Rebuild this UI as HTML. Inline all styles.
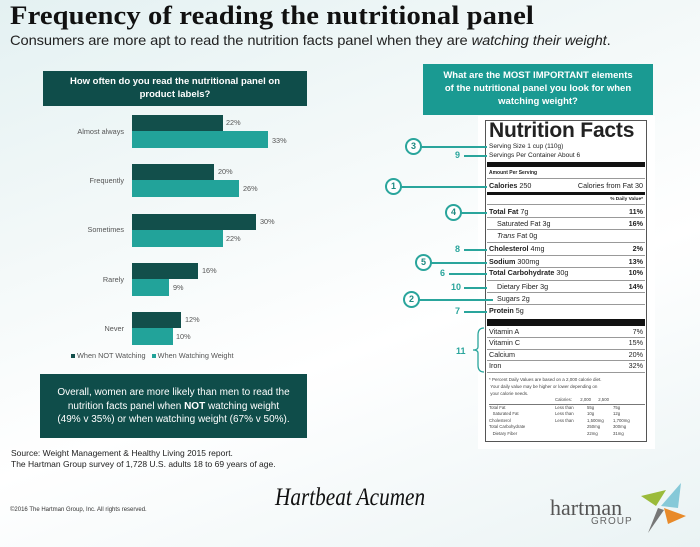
<!DOCTYPE html>
<html><head><meta charset="utf-8"><style>
*{margin:0;padding:0;box-sizing:border-box}
body{width:700px;height:547px;overflow:hidden;position:relative;font-family:"Liberation Sans",sans-serif;background:linear-gradient(160deg,#e4f1f2 0%,#f4f9f9 35%,#ffffff 60%,#eaf3f4 100%);color:#222}
.a{position:absolute;white-space:nowrap}
.bar{position:absolute;height:16px}
.d{background:#124f4b}.l{background:#22a39a}
.lab{position:absolute;font-size:7.3px;color:#555;text-align:right;width:90px;left:34px}
.pct{position:absolute;font-size:7.3px;color:#555}
.nf{position:absolute;left:485px;width:162px;font-size:7.2px;color:#222}
.ln{position:absolute;left:487px;width:158px;height:1px;background:#999}
.circ{position:absolute;width:17px;height:17px;border:2px solid #2aa59c;border-radius:50%;background:#fff;color:#1e8a82;font-weight:bold;font-size:9px;text-align:center;line-height:13px}
.num{position:absolute;color:#2aa59c;font-weight:bold;font-size:9px}
.hl{position:absolute;height:1.5px;background:#2aa59c}
</style></head><body>
<div class="a" style="left:10px;top:1px;font-family:'Liberation Serif',serif;font-weight:bold;font-size:26px;color:#111;letter-spacing:0.1px;transform:scaleX(1.1);transform-origin:left">Frequency of reading the nutritional panel</div>
<div class="a" style="left:10px;top:32px;font-size:14px;color:#222;letter-spacing:-0.1px;transform:scaleX(1.05);transform-origin:left">Consumers are more apt to read the nutrition facts panel when they are <i>watching their weight</i>.</div>

<div class="a" style="left:43px;top:71px;width:264px;height:35px;background:#0f4d4a;color:#fff;font-weight:bold;font-size:9.5px;text-align:center;line-height:13px;padding-top:4px">How often do you read the nutritional panel on<br>product labels?</div>

<div class="lab" style="top:127px">Almost always</div>
<div class="bar d" style="left:132px;top:115px;width:91px"></div><div class="pct" style="left:226px;top:118px">22%</div>
<div class="bar l" style="left:132px;top:131px;width:136px;height:17px"></div><div class="pct" style="left:272px;top:136px">33%</div>
<div class="lab" style="top:176px">Frequently</div>
<div class="bar d" style="left:132px;top:164px;width:82px"></div><div class="pct" style="left:218px;top:167px">20%</div>
<div class="bar l" style="left:132px;top:180px;width:107px;height:17px"></div><div class="pct" style="left:243px;top:184px">26%</div>
<div class="lab" style="top:225px">Sometimes</div>
<div class="bar d" style="left:132px;top:214px;width:124px"></div><div class="pct" style="left:260px;top:217px">30%</div>
<div class="bar l" style="left:132px;top:230px;width:91px;height:17px"></div><div class="pct" style="left:226px;top:234px">22%</div>
<div class="lab" style="top:275px">Rarely</div>
<div class="bar d" style="left:132px;top:263px;width:66px"></div><div class="pct" style="left:202px;top:266px">16%</div>
<div class="bar l" style="left:132px;top:279px;width:37px;height:17px"></div><div class="pct" style="left:173px;top:283px">9%</div>
<div class="lab" style="top:324px">Never</div>
<div class="bar d" style="left:132px;top:312px;width:49px"></div><div class="pct" style="left:185px;top:315px">12%</div>
<div class="bar l" style="left:132px;top:328px;width:41px;height:17px"></div><div class="pct" style="left:176px;top:332px">10%</div>
<div class="a" style="left:71px;top:351px;font-size:7.3px;color:#555"><span style="display:inline-block;width:4px;height:4px;background:#124f4b"></span> When NOT Watching &nbsp; <span style="display:inline-block;width:4px;height:4px;background:#22a39a"></span> When Watching Weight</div>

<div class="a" style="left:40px;top:374px;width:267px;height:64px;background:#0f4d4a;color:#fff;font-size:10px;text-align:center;line-height:13.5px;padding-top:12px">Overall, women are more likely than men to read the<br>nutrition facts panel when <b>NOT</b> watching weight<br>(49% v 35%) or when watching weight (67% v 50%).</div>
<div class="a" style="left:11px;top:448px;font-size:8.5px;line-height:11px;color:#222">Source: Weight Management &amp; Healthy Living 2015 report.<br>The Hartman Group survey of 1,728 U.S. adults 18 to 69 years of age.</div>
<div class="a" style="left:10px;top:507px;font-size:6px;color:#333">©2016 The Hartman Group, Inc. All rights reserved.</div>
<div class="a" style="left:275px;top:484px;font-family:'Liberation Serif',serif;font-style:italic;font-size:25px;color:#111;transform:scaleX(0.85);transform-origin:left">Hartbeat Acumen</div>
<div class="a" style="left:550px;top:495px;font-family:'Liberation Serif',serif;font-size:22px;color:#555">hartman</div>
<div class="a" style="left:591px;top:516px;font-size:10px;color:#666;letter-spacing:1px">GROUP</div>
<svg class="a" style="left:636px;top:478px" width="55" height="60" viewBox="0 0 55 60">
<polygon points="5,18 30,12 20,28" fill="#9bbb3a"/><polygon points="25,28 45,5 42,30" fill="#86c9d8"/><polygon points="28,30 50,38 32,46" fill="#e88a2a"/><polygon points="22,30 28,32 12,55" fill="#777"/></svg>

<div class="a" style="left:423px;top:64px;width:230px;height:51px;background:#1a9a92;color:#fff;font-weight:bold;font-size:9.5px;text-align:center;line-height:13px;padding-top:5px">What are the MOST IMPORTANT elements<br>of the nutritional panel you look for when<br>watching weight?</div>

<div class="a" style="left:478px;top:116px;width:177px;height:333px;background:#fff"></div>
<div class="a" style="left:485px;top:120px;width:162px;height:322px;border:1.5px solid #555"></div>
<div class="nf" style="left:489px;top:119px;font-size:21px;font-weight:900;letter-spacing:-0.2px">Nutrition Facts</div>
<div class="nf" style="left:489px;top:142px;font-size:6.5px;line-height:9px">Serving Size 1 cup (110g)<br>Servings Per Container About 6</div>
<div class="a" style="left:487px;top:162px;width:158px;height:5px;background:#111"></div>
<div class="nf" style="left:489px;top:170px;font-size:5px;font-weight:bold">Amount Per Serving</div>
<div class="ln" style="top:178px"></div>
<div class="nf" style="left:489px;top:181px"><b>Calories</b> 250</div><div class="nf" style="left:489px;top:181px;width:154px;text-align:right">Calories from Fat 30</div>
<div class="a" style="left:487px;top:192px;width:158px;height:3px;background:#111"></div>
<div class="nf" style="left:489px;top:197px;width:154px;text-align:right;font-size:4.8px;font-weight:bold">% Daily Value*</div>
<div class="ln" style="top:204px"></div>
<div class="nf" style="left:489px;top:207px"><b>Total Fat</b> 7g</div><div class="nf" style="left:489px;top:207px;width:154px;text-align:right;font-weight:bold">11%</div>
<div class="ln" style="top:217px"></div>
<div class="nf" style="left:497px;top:219px">Saturated Fat 3g</div><div class="nf" style="left:489px;top:219px;width:154px;text-align:right;font-weight:bold">16%</div>
<div class="ln" style="top:229px"></div>
<div class="nf" style="left:497px;top:231px"><i>Trans</i> Fat 0g</div>
<div class="ln" style="top:242px"></div>
<div class="nf" style="left:489px;top:244px"><b>Cholesterol</b> 4mg</div><div class="nf" style="left:489px;top:244px;width:154px;text-align:right;font-weight:bold">2%</div>
<div class="ln" style="top:255px"></div>
<div class="nf" style="left:489px;top:257px"><b>Sodium</b> 300mg</div><div class="nf" style="left:489px;top:257px;width:154px;text-align:right;font-weight:bold">13%</div>
<div class="ln" style="top:267px"></div>
<div class="nf" style="left:489px;top:268px"><b>Total Carbohydrate</b> 30g</div><div class="nf" style="left:489px;top:268px;width:154px;text-align:right;font-weight:bold">10%</div>
<div class="ln" style="top:280px"></div>
<div class="nf" style="left:497px;top:282px">Dietary Fiber 3g</div><div class="nf" style="left:489px;top:282px;width:154px;text-align:right;font-weight:bold">14%</div>
<div class="ln" style="top:292px"></div>
<div class="nf" style="left:497px;top:294px">Sugars 2g</div>
<div class="ln" style="top:304px"></div>
<div class="nf" style="left:489px;top:306px"><b>Protein</b> 5g</div>
<div class="a" style="left:487px;top:319px;width:158px;height:7px;background:#111"></div>
<div class="nf" style="left:489px;top:327px">Vitamin A</div><div class="nf" style="left:489px;top:327px;width:154px;text-align:right">7%</div>
<div class="ln" style="top:337px"></div>
<div class="nf" style="left:489px;top:338px">Vitamin C</div><div class="nf" style="left:489px;top:338px;width:154px;text-align:right">15%</div>
<div class="ln" style="top:349px"></div>
<div class="nf" style="left:489px;top:350px">Calcium</div><div class="nf" style="left:489px;top:350px;width:154px;text-align:right">20%</div>
<div class="ln" style="top:360px"></div>
<div class="nf" style="left:489px;top:361px">Iron</div><div class="nf" style="left:489px;top:361px;width:154px;text-align:right">32%</div>
<div class="ln" style="top:372px"></div>
<div class="nf" style="left:489px;top:376px;font-size:4.5px;line-height:7px;color:#444">* Percent Daily Values are based on a 2,000 calorie diet.<br>&nbsp;Your daily value may be higher or lower depending on<br>&nbsp;your calorie needs.</div>
<div class="nf" style="left:489px;top:397px;font-size:4.3px;line-height:6.5px;color:#444;width:156px">
<div style="padding-left:66px">Calories: &nbsp;&nbsp;&nbsp;&nbsp;&nbsp;&nbsp;2,000 &nbsp;&nbsp;&nbsp;&nbsp;&nbsp;2,500</div>
<div style="border-top:0.7px solid #777">Total Fat<span style="position:absolute;left:66px">Less than</span><span style="position:absolute;left:98px">55g</span><span style="position:absolute;left:124px">75g</span></div>
<div>&nbsp;&nbsp;&nbsp;Saturated Fat<span style="position:absolute;left:66px">Less than</span><span style="position:absolute;left:98px">10g</span><span style="position:absolute;left:124px">12g</span></div>
<div>Cholesterol<span style="position:absolute;left:66px">Less than</span><span style="position:absolute;left:98px">1,500mg</span><span style="position:absolute;left:124px">1,700mg</span></div>
<div>Total Carbohydrate<span style="position:absolute;left:98px">250mg</span><span style="position:absolute;left:124px">300mg</span></div>
<div>&nbsp;&nbsp;&nbsp;Dietary Fiber<span style="position:absolute;left:98px">22mg</span><span style="position:absolute;left:124px">31mg</span></div>
</div>

<div class="hl" style="left:420px;top:146px;width:67px"></div><div class="circ" style="left:405px;top:138px">3</div>
<div class="num" style="left:455px;top:150px">9</div><div class="hl" style="left:464px;top:155px;width:23px"></div>
<div class="hl" style="left:400px;top:186px;width:87px"></div><div class="circ" style="left:385px;top:178px">1</div>
<div class="hl" style="left:460px;top:212px;width:27px"></div><div class="circ" style="left:445px;top:204px">4</div>
<div class="num" style="left:455px;top:244px">8</div><div class="hl" style="left:464px;top:249px;width:23px"></div>
<div class="hl" style="left:430px;top:262px;width:57px"></div><div class="circ" style="left:415px;top:254px">5</div>
<div class="num" style="left:440px;top:268px">6</div><div class="hl" style="left:449px;top:273px;width:38px"></div>
<div class="num" style="left:451px;top:282px">10</div><div class="hl" style="left:464px;top:287px;width:23px"></div>
<div class="hl" style="left:418px;top:299px;width:75px"></div><div class="circ" style="left:403px;top:291px">2</div>
<div class="num" style="left:455px;top:306px">7</div><div class="hl" style="left:464px;top:311px;width:23px"></div>
<div class="num" style="left:456px;top:346px">11</div>
<svg class="a" style="left:470px;top:327px" width="16" height="46"><path d="M14,1 Q8,1 8,8 L8,20 Q8,23 3,23 Q8,23 8,26 L8,38 Q8,45 14,45" fill="none" stroke="#2aa59c" stroke-width="1.3"/></svg>
</body></html>
